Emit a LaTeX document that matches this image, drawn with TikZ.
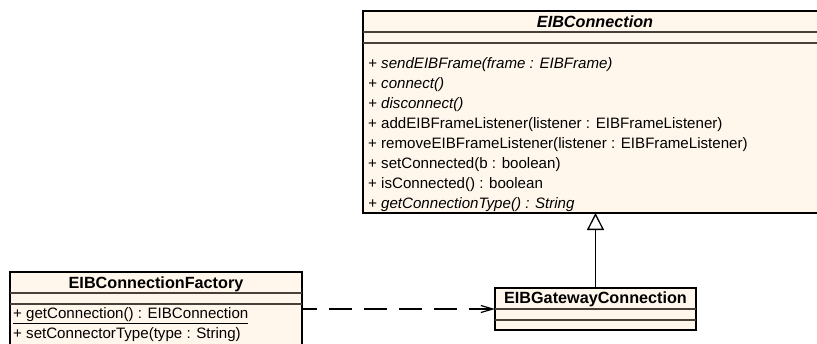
\documentclass[tikz,border=0pt]{standalone}
\usepackage{fontspec}
\setmainfont{Liberation Sans}
\usetikzlibrary{arrows.meta}
\definecolor{classfill}{RGB}{255,246,236}
\definecolor{rulecol}{RGB}{72,64,58}
\begin{document}
\begin{tikzpicture}[x=1pt,y=-1pt,
  classbox/.style={draw=black, line width=1.3pt, fill=classfill, inner sep=0pt, outer sep=0pt},
  sepline/.style={draw=rulecol, line width=1.6pt},
  ctitle/.style={font=\fontsize{16.2}{19}\selectfont\bfseries, inner sep=0pt, anchor=base},
  member/.style={font=\fontsize{15.1}{19}\selectfont, inner sep=0pt, anchor=base west},
  abstractmember/.style={member, font=\fontsize{15.1}{19}\selectfont\itshape},
  generalization/.style={line width=1.3pt, -{Triangle[open, length=17pt, width=17pt]}},
  dependency/.style={line width=1.2pt, dash pattern=on 23pt off 12pt, dash phase=8pt,
    -{Straight Barb[length=12pt, width=7pt]}},
]
\useasboundingbox (0,0) rectangle (817,343);
\clip (0,0) rectangle (817,343);

% abstract base class
\node[classbox, minimum width=464pt, minimum height=202pt] (conn) at (595,112) {};
\draw[sepline] (conn.west |- 0,32) -- (conn.east |- 0,32);
\draw[sepline] (conn.west |- 0,43) -- (conn.east |- 0,43);
\node[ctitle, font=\fontsize{16.2}{19}\selectfont\bfseries\itshape] (connT) at (595,27.5) {EIBConnection};
\node[abstractmember] (c1) at (368,68.5) {+ sendEIBFrame(frame : EIBFrame)};
\node[abstractmember] (c2) at (368,88.5) {+ connect()};
\node[abstractmember] (c3) at (368,108.5) {+ disconnect()};
\node[member] (c4) at (368,128.5) {+ addEIBFrameListener(listener : EIBFrameListener)};
\node[member] (c5) at (368,148.5) {+ removeEIBFrameListener(listener : EIBFrameListener)};
\node[member] (c6) at (368,168.5) {+ setConnected(b : boolean)};
\node[member] (c7) at (368,188.5) {+ isConnected() : boolean};
\node[abstractmember] (c8) at (368,208.5) {+ getConnectionType() : String};

% concrete gateway connection
\node[classbox, minimum width=201pt, minimum height=42pt] (gw) at (595.5,309) {};
\draw[sepline] (gw.west |- 0,309) -- (gw.east |- 0,309);
\draw[sepline] (gw.west |- 0,320) -- (gw.east |- 0,320);
\node[ctitle] (gwT) at (595.5,303.5) {EIBGatewayConnection};

% factory
\node[classbox, minimum width=292pt, minimum height=100pt] (fac) at (156,322) {};
\draw[sepline] (fac.west |- 0,293) -- (fac.east |- 0,293);
\draw[sepline] (fac.west |- 0,304) -- (fac.east |- 0,304);
\node[ctitle] (facT) at (156,288.5) {EIBConnectionFactory};
\node[member] (f1) at (13,318.5) {\underline{+ getConnection() : EIBConnection}};
\node[member] (f2) at (13,338.5) {+ setConnectorType(type : String)};

% relations
\draw[generalization] (gw.north) -- (gw.north |- conn.south);
\draw[dependency] (fac.east |- gw.west) -- (gw.west);
\end{tikzpicture}
\end{document}
